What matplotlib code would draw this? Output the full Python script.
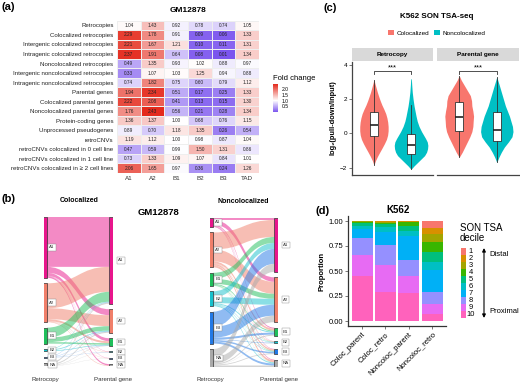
import numpy as np
import matplotlib.pyplot as plt
from matplotlib.colors import LinearSegmentedColormap, Normalize
from matplotlib.cm import ScalarMappable
from matplotlib.patches import Rectangle, PathPatch, Patch
from matplotlib.path import Path

plt.rcParams['font.family'] = ['Liberation Sans', 'DejaVu Sans']

# ---------------- (a) fold change heatmap ----------------
heat_rows = ['Retrocopies', 'Colocalized retrocopies', 'Intergenic colocalized retrocopies',
             'Intragenic colocalized retrocopies', 'Noncolocalized retrocopies',
             'Intergenic noncolocalized retrocopies', 'Intragenic noncolocalized retrocopies',
             'Parental genes', 'Colocalized parental genes', 'Noncolocalized parental genes',
             'Protein-coding genes', 'Unprocessed pseudogenes', 'retroCNVs',
             'retroCNVs colocalized in 0 cell line', 'retroCNVs colocalized in 1 cell line',
             'retroCNVs colocalized in \u2265 2 cell lines']
heat_cols = ['A1', 'A2', 'B1', 'B2', 'B3', 'TAD']
fold_change = np.array([
    [1.04, 1.43, 0.92, 0.78, 0.74, 1.05],
    [2.29, 1.78, 0.91, 0.09, 0.06, 1.33],
    [2.21, 1.67, 1.21, 0.10, 0.11, 1.31],
    [2.37, 1.91, 0.64, 0.08, 0.01, 1.34],
    [0.49, 1.35, 0.93, 1.02, 0.88, 0.97],
    [0.33, 1.07, 1.03, 1.25, 0.94, 0.88],
    [0.74, 1.82, 0.75, 0.60, 0.79, 1.12],
    [1.94, 2.34, 0.51, 0.17, 0.25, 1.33],
    [2.22, 2.08, 0.41, 0.13, 0.15, 1.30],
    [1.76, 2.43, 0.56, 0.21, 0.28, 1.34],
    [1.36, 1.37, 1.00, 0.68, 0.76, 1.15],
    [0.89, 0.70, 1.18, 1.35, 0.26, 0.54],
    [1.19, 1.12, 1.00, 0.98, 0.87, 1.04],
    [0.47, 0.59, 0.99, 1.50, 1.31, 0.86],
    [0.73, 1.33, 1.09, 1.07, 0.84, 1.01],
    [2.06, 1.65, 0.97, 0.36, 0.24, 1.26],
])

# ---------------- (b) sankey ----------------
nodes = ['A1', 'A2', 'B1', 'B2', 'B3', 'NA']
node_colors = ['#E8168C', '#F07F6A', '#1FBF5B', '#17C1CC', '#2279E6', '#A9A9A9']
# rows = retrocopy compartment, cols = parental gene compartment
coloc_flows = np.array([
    [50.0, 6.0, 3.0, 0.3, 0.3, 1.4],
    [25.0, 11.0, 2.0, 0.3, 0.2, 0.5],
    [10.0, 4.5, 1.5, 0.0, 0.0, 0.0],
    [0.5, 0.8, 0.7, 0.0, 0.0, 0.0],
    [0.3, 0.3, 0.2, 0.2, 0.0, 0.0],
    [1.2, 1.0, 0.4, 0.2, 0.2, 0.0],
])
noncoloc_flows = np.array([
    [2.0, 4.5, 1.0, 0.3, 0.5, 0.7],
    [17.0, 12.0, 2.0, 0.5, 1.5, 2.0],
    [6.0, 5.0, 1.0, 0.3, 0.5, 0.2],
    [6.0, 6.0, 1.0, 0.5, 0.5, 1.0],
    [15.0, 11.0, 2.0, 0.5, 1.5, 2.0],
    [8.0, 6.5, 1.0, 0.2, 0.8, 1.5],
])

# ---------------- (c) SON TSA-seq violins ----------------
facets = ['Retrocopy', 'Parental gene']
groups = ['Colocalized', 'Noncolocalized']
group_colors = ['#F8766D', '#00BFC4']
retro_coloc_y = [-1.86, -1.6, -1.35, -1.1, -0.85, -0.6, -0.35, -0.1, 0.15, 0.4, 0.65,
                 0.9, 1.15, 1.4, 1.65, 1.9, 2.15, 2.4, 2.65, 2.9, 3.14]
retro_coloc_dens = [0, 1.5, 3.5, 5.8, 8.2, 10.5, 12.5, 13.7, 14.2, 14.2, 13.8,
                    13.0, 11.8, 10.0, 8.0, 6.3, 4.8, 3.4, 2.2, 1.0, 0]
retro_noncoloc_y = [-2.1, -1.9, -1.7, -1.5, -1.3, -1.1, -0.9, -0.7, -0.5, -0.3, -0.1,
                    0.1, 0.4, 0.7, 1.0, 1.3, 1.6, 2.0, 2.4, 2.8, 3.18]
retro_noncoloc_dens = [0, 3, 6.5, 10, 13.5, 15.5, 16.5, 16.8, 16.2, 14.5, 12.5,
                       10.5, 8.0, 6.2, 5.0, 4.0, 3.0, 2.0, 1.2, 0.7, 0.3]
parent_coloc_y = [-1.4, -1.1, -0.8, -0.5, -0.2, 0.1, 0.4, 0.7, 1.0, 1.3, 1.6,
                  1.9, 2.2, 2.5, 2.8, 3.1, 3.37]
parent_coloc_dens = [0, 3, 5.5, 8, 10.5, 12.5, 13.5, 13.8, 14.2, 13.5, 12.5,
                     12.2, 11.0, 8.0, 5.0, 2.0, 0]
parent_noncoloc_y = [-1.7, -1.4, -1.1, -0.8, -0.5, -0.2, 0.1, 0.4, 0.7, 1.0, 1.3,
                     1.6, 1.9, 2.2, 2.5, 2.8, 3.05, 3.3]
parent_noncoloc_dens = [0, 2, 4.5, 7.5, 11.5, 15, 16, 15.5, 14, 12.5, 10.5,
                        8.5, 7, 5.5, 4, 2.5, 1.2, 0]
# whislo, q1, median, q3, whishi
retro_coloc_box = [-1.85, -0.15, 0.47, 1.22, 3.1]
retro_noncoloc_box = [-2.1, -1.2, -0.68, -0.06, 1.65]
parent_coloc_box = [-1.37, 0.13, 0.93, 1.8, 3.35]
parent_noncoloc_box = [-1.7, -0.44, 0.22, 1.25, 3.3]

# ---------------- (d) decile proportions ----------------
d_groups = ['Coloc_parent', 'Coloc_retro', 'Noncoloc_parent', 'Noncoloc_retro']
deciles = ['1', '2', '3', '4', '5', '6', '7', '8', '9', '10']
decile_colors = ['#F8766D', '#D89000', '#A3A500', '#39B600', '#00BF7D',
                 '#00BFC4', '#00B0F6', '#9590FF', '#E76BF3', '#FF62BC']
coloc_parent_prop = [0.0, 0.0, 0.005, 0.015, 0.025, 0.035, 0.085, 0.17, 0.215, 0.45]
coloc_retro_prop = [0.002, 0.005, 0.01, 0.016, 0.027, 0.05, 0.125, 0.2, 0.27, 0.295]
noncoloc_parent_prop = [0.002, 0.003, 0.005, 0.04, 0.05, 0.05, 0.24, 0.16, 0.172, 0.278]
noncoloc_retro_prop = [0.07, 0.062, 0.078, 0.1, 0.097, 0.083, 0.222, 0.119, 0.096, 0.073]

W, H = 520, 385
fig = plt.figure(figsize=(W / 100, H / 100), dpi=100)


def add_ax(x0, y0, x1, y1):
    # axes placed with pixel coordinates (origin top-left)
    return fig.add_axes([x0 / W, 1 - y1 / H, (x1 - x0) / W, (y1 - y0) / H])


def ftext(x, y, s, **kw):
    kw.setdefault('ha', 'center')
    kw.setdefault('va', 'center')
    return fig.text(x / W, 1 - y / H, s, **kw)


# ===== panel (a) =====
ftext(1, 7, '(a)', ha='left', fontsize=8, fontweight='bold')
ftext(188, 11, 'GM12878', fontsize=6, fontweight='bold')
vmin, vmax = fold_change.min(), fold_change.max()
mid = (1.0 - vmin) / (vmax - vmin)
cmap = LinearSegmentedColormap.from_list('fc', [(0, '#7B55EE'), (mid, '#FFFFFF'), (1, '#E42A1C')])
norm = Normalize(vmin, vmax)

ax_a = add_ax(117, 20.7, 259, 173)
ax_a.pcolormesh(fold_change, cmap=cmap, norm=norm, edgecolors='#EEEEEE', linewidth=0.4)
for i in range(fold_change.shape[0]):
    for j in range(fold_change.shape[1]):
        ax_a.text(j + 0.5, i + 0.5, f'{fold_change[i, j]:.2f}', ha='center', va='center',
                  fontsize=3.4, color='#222222')
ax_a.set_xlim(0, len(heat_cols))
ax_a.set_ylim(len(heat_rows), 0)
ax_a.set_xticks(np.arange(len(heat_cols)) + 0.5, heat_cols, fontsize=4.5, color='#333333')
ax_a.set_yticks(np.arange(len(heat_rows)) + 0.5, heat_rows, fontsize=4.4, color='#222222')
ax_a.tick_params(length=0, pad=2.5)
for s in ax_a.spines.values():
    s.set_visible(False)

ftext(273, 78, 'Fold change', ha='left', fontsize=5.5)
cax = add_ax(273, 84, 277.5, 112)
cb = fig.colorbar(ScalarMappable(norm=norm, cmap=cmap), cax=cax, ticks=[0.5, 1.0, 1.5, 2.0])
cb.outline.set_visible(False)
cb.ax.set_yticklabels(['0.5', '1.0', '1.5', '2.0'])
cb.ax.tick_params(labelsize=3.6, length=1.5, color='white', pad=1.5)

# ===== panel (b) =====
ftext(1, 199, '(b)', ha='left', fontsize=8, fontweight='bold')
ftext(79, 201, 'Colocalized', fontsize=5, fontweight='bold')
ftext(243, 202, 'Noncolocalized', fontsize=5, fontweight='bold')
ftext(158, 213, 'GM12878', fontsize=6.8, fontweight='bold')


def draw_sankey(ax, flows):
    n = len(nodes)
    out_tot = flows.sum(axis=1)
    in_tot = flows.sum(axis=0)
    gap = 0.045 * flows.sum()
    left_top = np.concatenate([[0], np.cumsum(out_tot + gap)[:-1]])
    right_top = np.concatenate([[0], np.cumsum(in_tot + gap)[:-1]])
    lspan = left_top[-1] + out_tot[-1]
    rspan = right_top[-1] + in_tot[-1]
    span = max(lspan, rspan)
    left_top += (span - lspan) / 2
    right_top += (span - rspan) / 2
    hw = 0.045
    xa, xb, xm = hw, 1 - hw, 0.5
    lo = left_top.copy()
    ro = right_top.copy()
    for s in range(n):
        for t in range(n):
            v = flows[s, t]
            if v <= 0:
                continue
            y0l, y1l = lo[s], lo[s] + v
            y0r, y1r = ro[t], ro[t] + v
            lo[s] += v
            ro[t] += v
            verts = [(xa, y0l), (xm, y0l), (xm, y0r), (xb, y0r), (xb, y1r),
                     (xm, y1r), (xm, y1l), (xa, y1l), (xa, y0l)]
            codes = [Path.MOVETO, Path.CURVE4, Path.CURVE4, Path.CURVE4, Path.LINETO,
                     Path.CURVE4, Path.CURVE4, Path.CURVE4, Path.CLOSEPOLY]
            ax.add_patch(PathPatch(Path(verts, codes), facecolor=node_colors[s],
                                   edgecolor='none', alpha=0.5))
    for side, tops, tots in ((0, left_top, out_tot), (1, right_top, in_tot)):
        for k in range(n):
            ax.add_patch(Rectangle((side - hw, tops[k]), 2 * hw, tots[k],
                                   facecolor=node_colors[k], edgecolor='#333333', lw=0.5))
            ax.text(side + hw + 0.035, tops[k] + tots[k] / 2, nodes[k], ha='left', va='center',
                    fontsize=3.2, color='#333333',
                    bbox=dict(boxstyle='square,pad=0.3', fc='white', ec='#888888', lw=0.3))
    ax.set_xlim(0, 1)
    ax.set_ylim(span, 0)
    ax.axis('off')


ax_bc = add_ax(44, 217, 112.5, 366)
draw_sankey(ax_bc, coloc_flows)
ax_bn = add_ax(210, 218, 277.5, 367)
draw_sankey(ax_bn, noncoloc_flows)
for x, lab in ((45, 'Retrocopy'), (113, 'Parental gene'), (210, 'Retrocopy'), (279, 'Parental gene')):
    ftext(x, 380, lab, fontsize=4.4, color='#333333')

# ===== panel (c) =====
ftext(330, 8, '(c)', fontsize=8, fontweight='bold')
ftext(437, 17, 'K562 SON TSA-seq', fontsize=5.8, fontweight='bold')
fig.legend(handles=[Patch(facecolor=c) for c in group_colors], labels=groups, loc='center',
           bbox_to_anchor=(437 / W, 1 - 33 / H), ncol=2, fontsize=4.6, frameon=False,
           handlelength=0.9, handleheight=0.9, columnspacing=0.8, handletextpad=0.4)
ftext(333, 118, 'log\u2082(pull-down/input)', rotation=90, fontsize=5.3, fontweight='bold')

violin_y = [[retro_coloc_y, retro_noncoloc_y], [parent_coloc_y, parent_noncoloc_y]]
violin_d = [[retro_coloc_dens, retro_noncoloc_dens], [parent_coloc_dens, parent_noncoloc_dens]]
box_stats = [[retro_coloc_box, retro_noncoloc_box], [parent_coloc_box, parent_noncoloc_box]]
positions = [0.725, 1.275]
dens_scale = 1 / 67.5
for k, (x0, x1) in enumerate([(352, 433), (437, 519)]):
    ax = add_ax(x0, 62, x1, 175)
    for g in range(2):
        y = np.array(violin_y[k][g])
        d = np.array(violin_d[k][g]) * dens_scale
        p = positions[g]
        ax.fill_betweenx(y, p - d, p + d, color=group_colors[g], lw=0)
        bs = box_stats[k][g]
        ax.bxp([dict(whislo=bs[0], q1=bs[1], med=bs[2], q3=bs[3], whishi=bs[4])],
               positions=[p], widths=0.11, patch_artist=True, showfliers=False, showcaps=False,
               boxprops=dict(facecolor='white', edgecolor='#333333', lw=0.6),
               whiskerprops=dict(color='#333333', lw=0.6),
               medianprops=dict(color='#222222', lw=1.2))
    ax.plot([positions[0], positions[0], positions[1], positions[1]], [3.44, 3.63, 3.63, 3.44],
            color='#333333', lw=0.6)
    ax.text(1.0, 3.62, '***', ha='center', va='bottom', fontsize=5.5)
    ax.set_xlim(0.4, 1.6)
    ax.set_ylim(-2.43, 4.16)
    ax.set_xticks([])
    for s in ('top', 'right'):
        ax.spines[s].set_visible(False)
    ax.spines['bottom'].set_color('#444444')
    ax.spines['bottom'].set_linewidth(0.9)
    if k == 0:
        ax.spines['left'].set_color('#444444')
        ax.spines['left'].set_linewidth(0.9)
        ax.set_yticks([-2, 0, 2, 4])
        ax.tick_params(axis='y', labelsize=4.6, length=2, width=0.5, pad=1.5, color='#444444')
    else:
        ax.spines['left'].set_visible(False)
        ax.set_yticks([])
    ax.add_patch(Rectangle((0, 1.012), 1, 0.112, transform=ax.transAxes, facecolor='#D9D9D9',
                           edgecolor='none', clip_on=False))
    ax.text(0.5, 1.068, facets[k], transform=ax.transAxes, ha='center', va='center',
            fontsize=4.6, fontweight='bold')

# ===== panel (d) =====
ftext(323, 211, '(d)', fontsize=8, fontweight='bold')
ftext(398, 210, 'K562', fontsize=7, fontweight='bold')
ax_d = add_ax(348, 216, 446, 326)
props = np.array([coloc_parent_prop, coloc_retro_prop, noncoloc_parent_prop, noncoloc_retro_prop])
xpos = np.arange(1, len(d_groups) + 1)
bottom = np.zeros(len(d_groups))
for dec in reversed(range(len(deciles))):
    ax_d.bar(xpos, props[:, dec], bottom=bottom, width=0.9, color=decile_colors[dec], lw=0)
    bottom += props[:, dec]
ax_d.set_xlim(0.4, 4.6)
ax_d.set_ylim(-0.05, 1.05)
ax_d.set_xticks(xpos)
ax_d.set_xticklabels(d_groups, rotation=45, ha='right', rotation_mode='anchor', fontsize=5.5)
ax_d.set_yticks([0, 0.25, 0.5, 0.75, 1.0], ['0.00', '0.25', '0.50', '0.75', '1.00'], fontsize=5.5)
ax_d.tick_params(length=2, width=0.5, pad=1.5, color='#444444')
for s in ('top', 'right'):
    ax_d.spines[s].set_visible(False)
for s in ('left', 'bottom'):
    ax_d.spines[s].set_color('#333333')
    ax_d.spines[s].set_linewidth(0.9)
ax_d.set_ylabel('Proportion', fontsize=5.5, fontweight='bold', labelpad=2)

ftext(460, 233, 'SON TSA\ndecile', ha='left', fontsize=7, linespacing=1.0)
ax_l = add_ax(458, 247.7, 520, 318.3)
ax_l.set_xlim(0, 62)
ax_l.set_ylim(len(deciles), 0)
ax_l.axis('off')
for i, (lab, c) in enumerate(zip(deciles, decile_colors)):
    ax_l.add_patch(Rectangle((3, i), 4.5, 1, facecolor=c, edgecolor='none'))
    ax_l.text(13, i + 0.5, lab, ha='center', va='center', fontsize=5.4)
ax_l.annotate('', xy=(26, 0.05), xytext=(26, 9.95),
              arrowprops=dict(arrowstyle='<|-|>', lw=0.8, color='black', mutation_scale=5,
                              shrinkA=0, shrinkB=0))
ax_l.text(31, 1.0, 'Distal', ha='left', va='center', fontsize=5.5)
ax_l.text(31, 9.0, 'Proximal', ha='left', va='center', fontsize=5.5)

fig.savefig('out.png', dpi=100)
